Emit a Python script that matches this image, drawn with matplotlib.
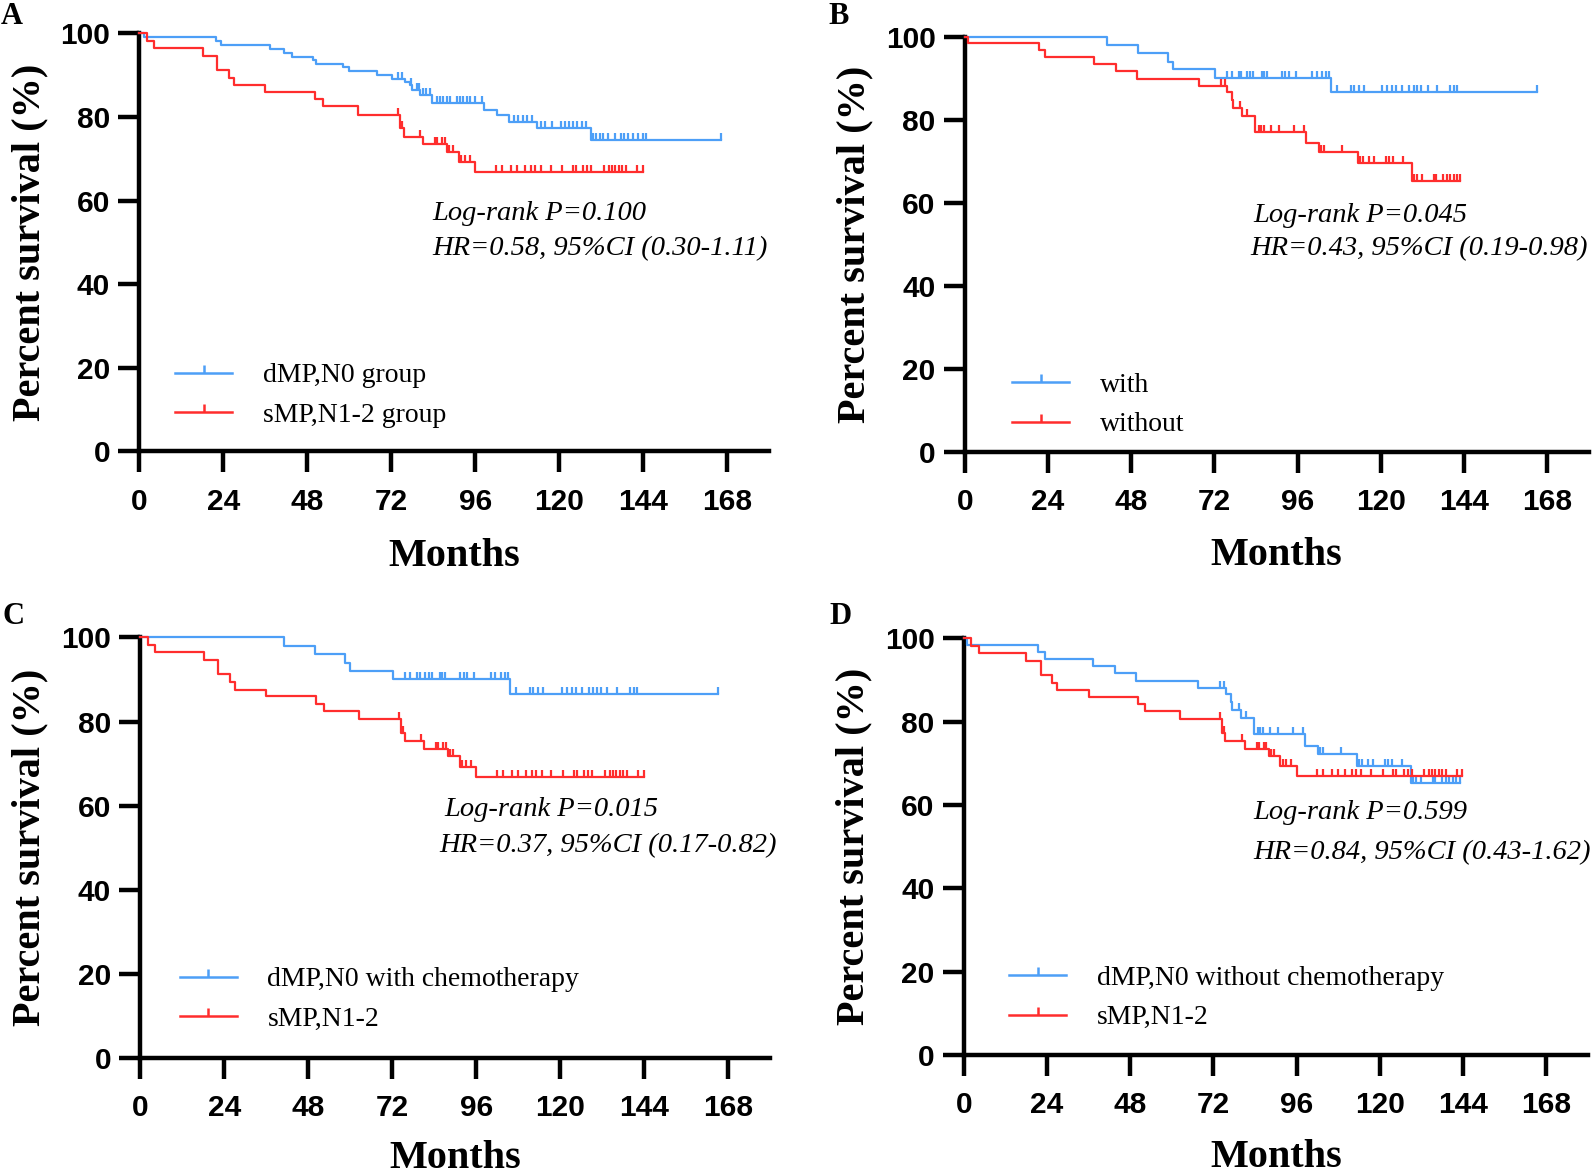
import numpy as np
import matplotlib
matplotlib.use("Agg")
import matplotlib.pyplot as plt
from matplotlib.lines import Line2D
from matplotlib.path import Path

# ---- Kaplan-Meier curves (months, % survival) ----
# dMP,N0 group
dmp_n0_t = [0, 1.4, 21.8, 23.4, 37.3, 41.3, 43.7, 49.7, 50.5, 58.3, 59.9, 67.9, 72.2,
            76.0, 77.4, 77.9, 80.3, 83.6, 98.4, 102.3, 105.6, 113.5, 129.0]
dmp_n0_s = [100, 99.1, 98.3, 97.3, 96.3, 95.4, 94.3, 93.6, 92.8, 92.0, 90.9, 90.0, 89.2,
            88.4, 87.6, 86.4, 85.2, 83.4, 81.8, 80.4, 78.8, 77.3, 74.5]
dmp_n0_c = [74.0, 75.0, 77.5, 79.3, 80.0, 81.1, 82.0, 83.0, 85.1, 86.0, 86.8, 88.0, 88.9,
            90.8, 91.7, 92.5, 93.7, 94.6, 96.0, 98.0, 107.0, 108.2, 109.5, 110.8, 112.3,
            114.7, 116.0, 118.0, 120.4, 121.5, 122.8, 124.0, 125.0, 126.4, 127.6, 129.5,
            130.5, 131.5, 132.5, 134.0, 136.0, 137.5, 138.5, 139.5, 141.0, 142.5, 144.0,
            144.8, 166.3]

# sMP,N1-2
smp_t = [0, 2.1, 4.3, 18.1, 22.2, 25.6, 27.0, 36.0, 50.2, 52.4, 62.4, 74.5, 75.5,
         81.0, 88.0, 91.3, 96.0]
smp_s = [100, 98.3, 96.5, 94.7, 91.3, 89.4, 87.6, 86.0, 84.2, 82.6, 80.6, 77.3, 75.3,
         73.5, 71.7, 69.3, 66.9]
smp_c = [74.0, 75.2, 80.3, 84.5, 85.2, 86.5, 87.3, 88.5, 89.5, 92.0, 93.0, 94.5, 101.8,
         103.7, 106.1, 108.0, 110.1, 112.0, 113.2, 114.7, 117.5, 120.9, 123.8, 124.7,
         126.9, 128.0, 129.2, 132.8, 134.1, 135.0, 136.0, 137.0, 138.0, 139.0, 142.2, 143.8]

# dMP,N0 with chemotherapy
with_t = [0, 41.1, 50.0, 58.6, 60.0, 72.2, 105.6]
with_s = [100, 98.0, 96.0, 93.9, 92.1, 90.0, 86.6]
with_c = [75.7, 77.1, 79.0, 79.8, 81.4, 82.4, 83.3, 85.7, 86.2, 87.2, 91.5, 92.5, 93.5,
          95.5, 100.2, 101.5, 103.0, 104.2, 105.0, 107.4, 111.4, 112.3, 113.7, 115.2,
          120.4, 121.9, 123.3, 124.5, 126.2, 128.2, 129.5, 130.5, 131.7, 133.5, 136.1,
          139.9, 141.0, 141.9, 165.1]

# dMP,N0 without chemotherapy
without_t = [0, 1.0, 21.4, 23.3, 37.2, 43.5, 49.6, 67.5, 75.6, 77.0, 77.5, 80.0, 83.7,
             98.4, 102.2, 113.5, 129.0]
without_s = [100, 98.4, 96.8, 95.0, 93.3, 91.7, 89.9, 88.2, 86.7, 84.8, 82.8, 80.8, 77.0,
             74.3, 72.3, 69.5, 65.3]
without_c = [74.0, 75.0, 79.5, 81.4, 84.9, 85.5, 86.3, 88.3, 90.6, 94.9, 97.9, 102.8,
             103.6, 108.7, 114.0, 115.0, 116.5, 118.0, 121.5, 122.5, 123.5, 126.4, 129.6,
             130.5, 132.0, 135.3, 136.0, 138.0, 139.0, 140.0, 141.0, 142.0, 143.0]

x_ticks = [0, 24, 48, 72, 96, 120, 144, 168]
y_ticks = [0, 20, 40, 60, 80, 100]

BLUE = "#4D9FF7"
RED = "#FF2D2D"
TICK = Path([(0, 0), (0, 1)])  # censor mark pointing up

groups = {
    "dmp_n0": (dmp_n0_t, dmp_n0_s, dmp_n0_c),
    "smp": (smp_t, smp_s, smp_c),
    "with": (with_t, with_s, with_c),
    "without": (without_t, without_s, without_c),
}

# letter, axes rect, (blue group, red group), legend labels, stats text, layout tweaks
panels = [
    ("A", [0.0874, 0.6155, 0.3952, 0.3560], ("dmp_n0", "smp"),
     ["dMP,N0 group", "sMP,N1-2 group"],
     ["Log-rank P=0.100", "HR=0.58, 95%CI (0.30-1.11)"],
     dict(leg=(0.057, 0.212), l1=(0.465, 0.569), l2=(0.465, 0.486), ylab=-0.145, xlab=-0.207)),
    ("B", [0.6052, 0.6147, 0.3915, 0.3542], ("with", "without"),
     ["with", "without"],
     ["Log-rank P=0.045", "HR=0.43, 95%CI (0.19-0.98)"],
     dict(leg=(0.076, 0.192), l1=(0.463, 0.570), l2=(0.457, 0.489), ylab=-0.146, xlab=-0.203)),
    ("C", [0.0880, 0.0986, 0.3952, 0.3585], ("with", "smp"),
     ["dMP,N0 with chemotherapy", "sMP,N1-2"],
     ["Log-rank P=0.015", "HR=0.37, 95%CI (0.17-0.82)"],
     dict(leg=(0.063, 0.217), l1=(0.482, 0.590), l2=(0.474, 0.506), ylab=-0.146, xlab=-0.194)),
    ("D", [0.6046, 0.1012, 0.3915, 0.3550], ("without", "smp"),
     ["dMP,N0 without chemotherapy", "sMP,N1-2"],
     ["Log-rank P=0.599", "HR=0.84, 95%CI (0.43-1.62)"],
     dict(leg=(0.073, 0.215), l1=(0.464, 0.583), l2=(0.464, 0.487), ylab=-0.146, xlab=-0.201)),
]


def draw_km(ax, key, color):
    t, s, c = groups[key]
    t = np.array(t)
    s = np.array(s)
    c = np.array(c)
    end = max(t.max(), c.max())
    ax.step(np.append(t, end), np.append(s, s[-1]), where="post",
            color=color, lw=1.6, clip_on=False, zorder=3)
    # survival level at each censor time
    idx = np.searchsorted(t, c, side="right") - 1
    ax.plot(c, s[idx], linestyle="none", marker=TICK, markersize=10,
            markeredgewidth=1.6, color=color, clip_on=False, zorder=3)


fig = plt.figure(figsize=(15.94, 11.74), dpi=100)

for letter, rect, keys, labels, stats, lay in panels:
    ax = fig.add_axes(rect)
    draw_km(ax, keys[0], BLUE)
    draw_km(ax, keys[1], RED)

    ax.set_xlim(0, 180)
    ax.set_ylim(0, 100)
    ax.set_xticks(x_ticks)
    ax.set_yticks(y_ticks)
    for sp in ["top", "right"]:
        ax.spines[sp].set_visible(False)
    for sp in ["left", "bottom"]:
        ax.spines[sp].set_linewidth(3.2)
    ax.tick_params(axis="both", direction="out", length=15, width=3.2)
    ax.tick_params(axis="x", pad=11)
    ax.tick_params(axis="y", pad=6)
    for lab in ax.get_xticklabels() + ax.get_yticklabels():
        lab.set_fontfamily("Liberation Sans")
        lab.set_fontweight("bold")
        lab.set_fontsize(21.5)

    ax.set_ylabel("Percent survival (%)", fontfamily="Liberation Serif",
                  fontweight="bold", fontsize=29)
    ax.yaxis.set_label_coords(lay["ylab"], 0.5)
    ax.set_xlabel("Months", fontfamily="Liberation Serif", fontweight="bold", fontsize=29)
    ax.xaxis.set_label_coords(0.5, lay["xlab"])

    # legend
    handles = [Line2D([], [], color=BLUE, lw=1.8, marker=TICK, markersize=12, markeredgewidth=1.8),
               Line2D([], [], color=RED, lw=1.8, marker=TICK, markersize=12, markeredgewidth=1.8)]
    ax.legend(handles, labels, loc="upper left", bbox_to_anchor=lay["leg"],
              frameon=False, numpoints=1, handlelength=2.05, handletextpad=1.1,
              labelspacing=0.5, borderpad=0, borderaxespad=0,
              prop={"family": "Liberation Serif", "size": 20})

    # stats text
    ax.text(lay["l1"][0], lay["l1"][1], stats[0], transform=ax.transAxes, va="center",
            ha="left", fontfamily="Liberation Serif", fontstyle="italic", fontsize=20.5)
    ax.text(lay["l2"][0], lay["l2"][1], stats[1], transform=ax.transAxes, va="center",
            ha="left", fontfamily="Liberation Serif", fontstyle="italic", fontsize=20.5)

# panel letters
for letter, (px, py) in zip("ABCD", [(12, 16), (839, 16), (14, 616), (840, 616)]):
    fig.text(px / 1594, 1 - py / 1174, letter, ha="center", va="center",
             fontfamily="Liberation Serif", fontweight="bold", fontsize=22)

fig.savefig("out.png", dpi=100)
